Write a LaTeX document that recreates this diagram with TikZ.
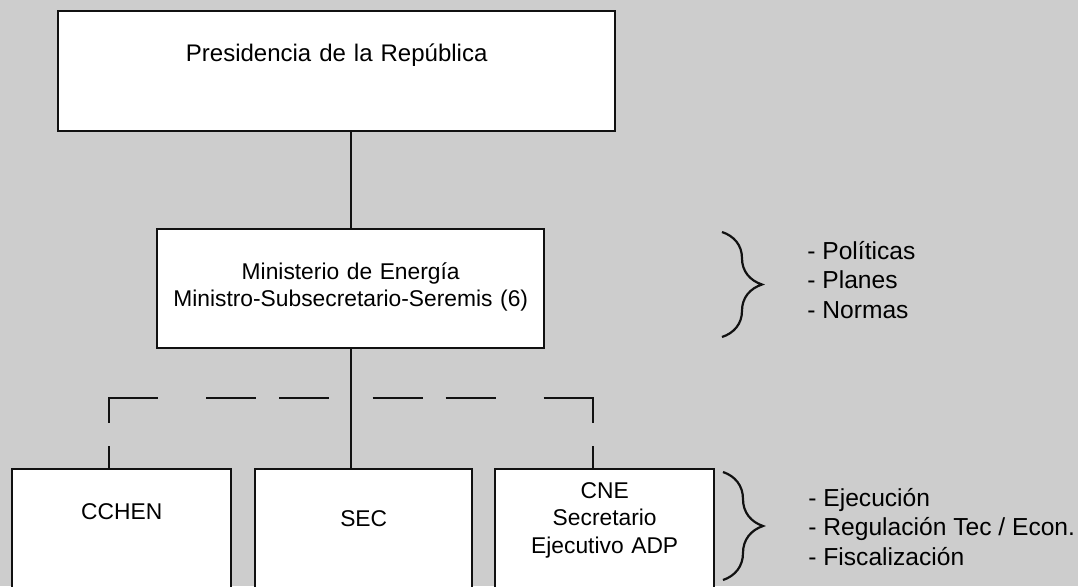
\documentclass[tikz,border=0pt]{standalone}
\usepackage{fontspec}
\setmainfont{Liberation Sans}
\usepackage{tikz}
\usetikzlibrary{positioning, calc, decorations.pathreplacing}
\usepackage{xcolor}
\definecolor{scangrey}{HTML}{CDCDCD}
\definecolor{inkblack}{HTML}{111111}
\tikzset{
  orgbox/.style={rectangle, draw=inkblack, fill=white, line width=1.2pt,
                 inner sep=0pt, align=center, anchor=north west,
                 font=\fontsize{11.4}{13.7}\selectfont},
  headbox/.style={orgbox, font=\fontsize{12}{14}\selectfont},
  link/.style={draw=inkblack, line width=1.1pt},
  dashlink/.style={link, line width=1pt,
                   dash pattern=on 0pt off 11pt on 25pt off 11.5pt on 25pt off 24pt
                                on 37pt off 11.5pt on 13pt off 50pt},
  bracket/.style={draw=inkblack, line width=1.1pt, decorate,
                  decoration={brace, amplitude=20pt}},
  tasklist/.style={anchor=west, align=left, inner sep=0pt,
                   font=\fontsize{12.3}{14.75}\selectfont},
}

\begin{document}
\begin{tikzpicture}[x=0.5pt, y=-0.5pt]
  \clip (0,0) rectangle (1078,586);
  \fill[scangrey] (0,0) rectangle (1078,586);

  % --- Top levels ---
  \node[headbox, text width=278.5pt, text height=25.1pt, text depth=34.9pt]
    (pres) at (57,10) {Presidencia de la República};
  \node[orgbox, text width=193.5pt, text height=25.1pt, text depth=34.4pt]
    (min) at (156,228) {Ministerio de Energía\\Ministro-Subsecretario-Seremis (6)};

  % --- Services ---
  \node[orgbox, text width=109.5pt, text height=25.1pt, text depth=55pt]
    (cchen) at (11,468) {CCHEN};
  \node[orgbox, text width=108.5pt, text height=28.6pt, text depth=52pt]
    (sec) at (254,468) {SEC};
  \node[orgbox, text width=109.5pt, text height=14.6pt, text depth=66pt]
    (cne) at (494,468) {CNE\\Secretario\\Ejecutivo ADP};

  % --- Links ---
  \draw[link] (min.north |- pres.south) -- (min.north);
  \draw[link] (min.south) -- (min.south |- sec.north);
  \coordinate (split) at ($(min.south)+(0,49)$);
  \draw[dashlink] (split) -| ([xshift=-6.5pt]cchen.north);
  \draw[dashlink] (split) -| ([xshift=-6pt]cne.north);

  % --- Braces and tasks ---
  \coordinate (polTop) at (722,232);
  \coordinate (polBot) at (722,337);
  \draw[bracket] (polTop) -- (polBot);
  \node[tasklist] (pol) at (807,280) {- Políticas\\- Planes\\- Normas};

  \coordinate (ejeTop) at (723,472);
  \coordinate (ejeBot) at (723,580);
  \draw[bracket] (ejeTop) -- (ejeBot);
  \node[tasklist] (eje) at (808,527)
    {- Ejecución\\- Regulación Tec / Econ.\\- Fiscalización};

\end{tikzpicture}
\end{document}
